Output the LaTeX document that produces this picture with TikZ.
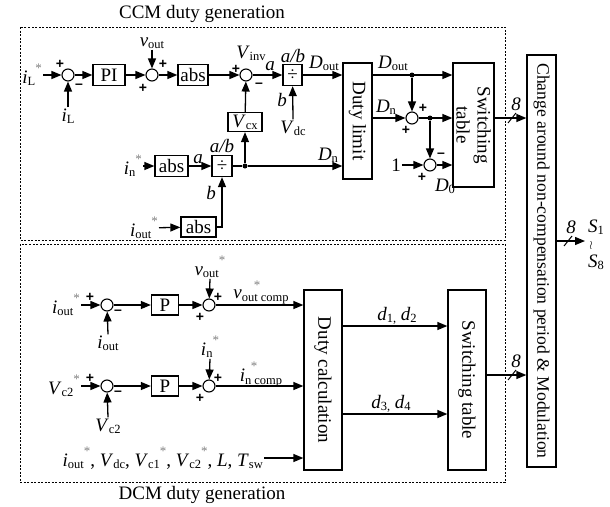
\documentclass[tikz,border=0pt]{standalone}
\usepackage{fontspec}
\setmainfont{Liberation Serif}
\setsansfont{Liberation Sans}
\usetikzlibrary{arrows.meta,calc}
\newcommand{\subsz}{\fontsize{12.5}{13}\selectfont}
\newcommand{\vv}[2]{\textit{#1}\raisebox{-0.25ex}{\subsz #2}}
\newcommand{\st}{\raisebox{1.2ex}{\fontsize{13}{13}\selectfont\textcolor{gray}{*}}}
\newcommand{\vs}[2]{\vv{#1}{#2}\st}
\begin{document}
\begin{tikzpicture}[x=1pt,y=-1pt,
  every node/.style={font=\fontsize{19}{21}\selectfont},
  lbl/.style={inner sep=1pt},
  blk/.style={draw,line width=1.3pt,inner sep=1pt},
  sumc/.style={circle,draw,line width=1.1pt,minimum size=12pt,inner sep=0pt},
  dotn/.style={circle,fill,minimum size=5pt,inner sep=0pt},
  arr/.style={line width=1.3pt,-{Triangle[length=10pt,width=8pt]}},
  ln/.style={line width=1.3pt},
  sgn/.style={inner sep=0pt,font=\sffamily\bfseries\fontsize{14}{14}\selectfont},
  dbox/.style={line width=1pt,dash pattern=on 2pt off 1.5pt},
  vbox/.style={draw,line width=1.3pt,rotate=-90,align=center,inner sep=1pt}]
\useasboundingbox (0,0) rectangle (610,506);

% ---------- frames ----------
\draw[dbox] (20,27) rectangle (505,240);
\draw[dbox] (20,244) rectangle (505,482);
\node (tccm) at (202,14) {CCM duty generation};
\node (tdcm) at (202,495) {DCM duty generation};

% ---------- CCM top row ----------
\node[lbl,anchor=east] (iLs) at (43,75) {\vs{i}{L}};
\node[sumc] (s1) at (68,75) {};
\node[sgn] at (60,64) {+};
\node[sgn] at (79,86) {--};
\node[lbl] (iL) at (68,116) {\vv{i}{L}};
\draw[arr] (iLs) -- (s1);
\draw[arr] (iL.north) -- (s1);
\node[blk,minimum width=32pt,minimum height=21pt] (pi) at (109,75) {PI};
\draw[arr] (s1) -- (pi);
\node[sumc] (s2) at (152,75) {};
\node[sgn] at (163,64) {+};
\node[sgn] at (143,88) {+};
\node[lbl] (vout) at (152,43) {\vv{v}{out}};
\draw[arr] (vout.south) -- (s2);
\draw[arr] (pi) -- (s2);
\node[blk,minimum width=30pt,minimum height=21pt] (abs1) at (193,75) {abs};
\draw[arr] (s2) -- (abs1);
\node[sumc] (s3) at (246,75) {};
\node[sgn] at (236,69) {+};
\node[sgn] at (259,85) {--};
\node[lbl,inner sep=0pt] (vinv) at (251,53) {\vv{V}{inv}};
\draw[arr] (abs1) -- (s3);
\node[blk,minimum width=34pt,minimum height=19pt] (vcx) at (245,122) {\vv{V}{cx}};
\draw[arr] (vcx) -- (s3);
\node[blk,minimum width=19pt,minimum height=21pt] (div1) at (292.5,75) {÷};
\draw[arr] (s3) -- (div1);
\node[lbl] (la1) at (270,66) {\textit{a}};
\node[lbl] (lab1) at (293,56) {\textit{a/b}};
\node[lbl] (vdc) at (293,128) {\vv{V}{dc}};
\node[lbl] (lb1) at (282,100) {\textit{b}};
\draw[arr] (vdc.north) -- (div1);

\node[vbox,minimum width=116pt,minimum height=29pt] (dl) at (357.5,121) {Duty limit};
\draw[arr] (div1) -- (div1 -| dl.south);
\node[lbl] (dout1) at (324,63) {\vv{D}{out}};

\node[vbox,minimum width=124pt,minimum height=41pt] (st1) at (473.5,125) {Switching\\table};
\node[dotn] (j1) at (412,75) {};
\draw[arr] (dl.north |- j1) -- (j1 -| st1.south);
\node[lbl] (dout2) at (393,63) {\vv{D}{out}};
\node[sumc] (s4) at (412,118) {};
\node[sgn] at (423,108) {+};
\node[sgn] at (406,130) {+};
\draw[arr] (j1) -- (s4);
\draw[arr] (dl.north |- s4) -- (s4);
\node[lbl] (dn1) at (386,107) {\vv{D}{n}};
\node[dotn] (j2) at (430,118) {};
\draw[arr] (s4) -- (s4 -| st1.south);
\node[sumc] (s5) at (430,165) {};
\node[sgn] at (441,155) {--};
\node[sgn] at (422,177) {+};
\draw[arr] (j2) -- (s5);
\node[lbl] (one) at (396,165) {1};
\draw[arr] (one) -- (s5);
\draw[arr] (s5) -- (s5 -| st1.south);
\node[lbl] (d0) at (445,186) {\vv{D}{0}};

% ---------- CCM middle ----------
\node[lbl,anchor=east] (ins) at (143,166) {\vs{i}{n}};
\node[blk,minimum width=33pt,minimum height=21pt] (abs2) at (171.5,166) {abs};
\draw[arr] (ins) -- (abs2);
\node[blk,minimum width=20pt,minimum height=21pt] (div2) at (222,166) {÷};
\draw[arr] (abs2) -- (div2);
\node[lbl] (la2) at (198,159) {\textit{a}};
\node[lbl] (lab2) at (222,146) {\textit{a/b}};
\node[dotn] (j3) at (245,166) {};
\draw[ln] (div2) -- (j3);
\draw[arr] (j3) -- (j3 -| dl.south);
\draw[arr] (j3) -- (vcx);
\node[lbl] (dn2) at (328,155) {\vv{D}{n}};
\node[blk,minimum width=35pt,minimum height=20pt] (abs3) at (198.5,227) {abs};
\node[lbl,anchor=east] (iouts1) at (159,228) {\vs{i}{out}};
\draw[arr] (iouts1) -- (abs3);
\draw[arr] (abs3.east) -| (div2.south);
\node[lbl] (lb2) at (211,193) {\textit{b}};

% ---------- big box ----------
\node[vbox,minimum width=412pt,minimum height=29pt,font=\fontsize{17.6}{20}\selectfont] (big) at (541.5,261) {Change around non-compensation period \& Modulation};
\draw[arr] (st1.north |- j2) -- (j2 -| big.south);
\coordinate (sl1) at (512,118);
\draw[line width=1pt] ($(sl1)+(-4,5)$) -- ($(sl1)+(4,-5)$);
\node[lbl] (n81) at (516,104) {\textit{8}};
\coordinate (sout) at (585,241);
\draw[arr] (big.north |- sout) -- (sout);
\coordinate (sl3) at (568,241);
\draw[line width=1pt] ($(sl3)+(-4,5)$) -- ($(sl3)+(4,-5)$);
\node[lbl] (n83) at (571,227) {\textit{8}};
\node[lbl] (S1) at (596,227) {\vv{S}{1}};
\node[lbl] (til) at (591,245) {\fontsize{12}{12}\selectfont$\wr$};
\node[lbl] (S8) at (596,262) {\vv{S}{8}};

% ---------- DCM ----------
\node[lbl,anchor=east] (iouts2) at (81,305) {\vs{i}{out}};
\node[sumc] (s6) at (107,305) {};
\node[sgn] at (90,297) {+};
\node[sgn] at (118,312) {--};
\draw[arr] (iouts2) -- (s6);
\node[lbl] (iout) at (108,343) {\vv{i}{out}};
\draw[arr] (iout.north) -- (s6);
\node[blk,minimum width=27pt,minimum height=20pt] (p1) at (165,305) {P};
\draw[arr] (s6) -- (p1);
\node[sumc] (s7) at (209,305) {};
\node[sgn] at (218,297) {+};
\node[sgn] at (200,317) {+};
\draw[arr] (p1) -- (s7);
\node[lbl] (vouts) at (210,267) {\vs{v}{out}};
\draw[arr] (vouts.south) -- (s7);

\node[vbox,minimum width=180pt,minimum height=38pt] (dc) at (323,380) {Duty calculation};
\draw[arr] (s7) -- (s7 -| dc.south);
\node[lbl] (vcomp) at (261,297) {\vv{v}{out comp}};
\node[inner sep=0pt,font=\fontsize{13}{13}\selectfont,text=gray] (vst) at (257,285) {*};

\node[lbl,anchor=east] (vc2s) at (81,386) {\vs{V}{c2}};
\node[sumc] (s8) at (107,386) {};
\node[sgn] at (90,378) {+};
\node[sgn] at (118,393) {--};
\draw[arr] (vc2s) -- (s8);
\node[lbl] (vc2) at (108,426) {\vv{V}{c2}};
\draw[arr] (vc2.north) -- (s8);
\node[blk,minimum width=27pt,minimum height=20pt] (p2) at (165,386) {P};
\draw[arr] (s8) -- (p2);
\node[sumc] (s9) at (209,386) {};
\node[sgn] at (218,378) {+};
\node[sgn] at (200,398) {+};
\draw[arr] (p2) -- (s9);
\node[lbl] (ins2) at (210,347) {\vs{i}{n}};
\draw[arr] (ins2.south) -- (s9);
\draw[arr] (s9) -- (s9 -| dc.south);
\node[lbl] (icomp) at (261,378) {\vv{i}{n comp}};
\node[inner sep=0pt,font=\fontsize{13}{13}\selectfont,text=gray] (ist) at (254,366) {*};

\node[lbl,anchor=east] (params) at (264,458) {\vs{i}{out}, \vv{V}{dc}, \vs{V}{c1}, \vs{V}{c2}, \textit{L}, \vv{T}{sw}};
\draw[arr] (params) -- (params -| dc.south);

\node[vbox,minimum width=180pt,minimum height=38pt] (st2) at (467,380) {Switching table};
\coordinate (d12) at (342,326);
\coordinate (d34) at (342,414);
\draw[arr] (d12) -- (d12 -| st2.south);
\draw[arr] (d34) -- (d34 -| st2.south);
\node[lbl] (ld12) at (397,316) {\textit{d}\raisebox{-0.25ex}{\subsz 1,} \vv{d}{2}};
\node[lbl] (ld34) at (391,404) {\textit{d}\raisebox{-0.25ex}{\subsz 3,} \vv{d}{4}};
\coordinate (o2) at (486,375);
\draw[arr] (o2) -- (o2 -| big.south);
\coordinate (sl2) at (512,375);
\draw[line width=1pt] ($(sl2)+(-4,5)$) -- ($(sl2)+(4,-5)$);
\node[lbl] (n82) at (516,361) {\textit{8}};
\end{tikzpicture}
\end{document}
